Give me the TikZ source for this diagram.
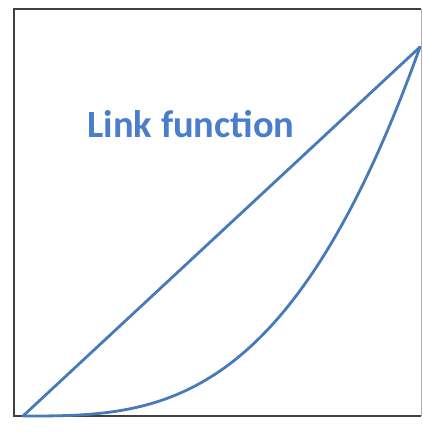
\documentclass[tikz,border=0pt]{standalone}
\usepackage{fontspec}
\setmainfont{Carlito}
\definecolor{linkblue}{RGB}{72,122,186}
\definecolor{titleblue}{RGB}{74,126,203}
\begin{document}
\begin{tikzpicture}[x=1pt,y=-1pt]
\useasboundingbox (0,0) rectangle (422,435);
\coordinate (sw) at (14,416);
\coordinate (nw) at (14,9);
\coordinate (ne) at (421,9);
\coordinate (se) at (421,416);
\coordinate (start) at (23,416);
\coordinate (stop) at (420,47);
\draw[line width=2.6pt,black!75] (ne)--(nw)--(sw)--(se);
\draw[line width=0.8pt,black!30] (ne)--(se);
\draw[line width=2.8pt,linkblue,line cap=round] (start)--(stop);
\draw[line width=2.8pt,linkblue,line cap=round,line join=round] plot[domain=0:1,samples=80,smooth] ({23+397*\x},{416-369*\x^3});
\node[titleblue,anchor=base,inner sep=0pt,font=\fontsize{38.5}{42}\selectfont\bfseries] (title) at (191,138) {Link function};
\end{tikzpicture}
\end{document}
